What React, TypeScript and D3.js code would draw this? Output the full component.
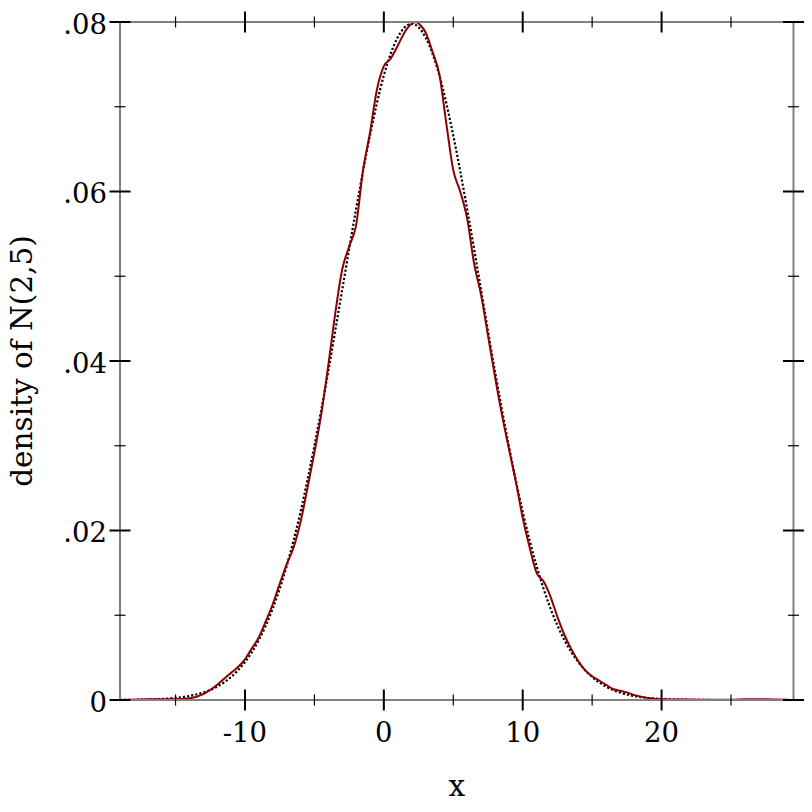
import React from "react";
import * as d3 from "d3";

const X_DOMAIN = [-19, 29.5];
const Y_DOMAIN = [0, 0.08];
const X_MAJOR = [-10, 0, 10, 20];
const X_MAJOR_LABELS = ["-10", "0", "10", "20"];
const X_MINOR = [-15, -5, 5, 15, 25];
const Y_MAJOR = [0, 0.02, 0.04, 0.06, 0.08];
const Y_MAJOR_LABELS = ["0", ".02", ".04", ".06", ".08"];
const Y_MINOR = [0.01, 0.03, 0.05, 0.07];

// dashed curve: density of N(2,5)
const normX = [-19, -18, -17, -16, -15, -14, -13, -12, -11, -10, -9, -8, -7, -6, -5, -4, -3, -2, -1, 0, 1, 2, 3, 4, 5, 6, 7, 8, 9, 10, 11, 12, 13, 14, 15, 16, 17, 18, 19, 20, 21, 22, 23, 24, 26, 28, 29.5];
const normY = [0.00001, 0.00003, 0.00006, 0.00012, 0.00025, 0.00048, 0.00089, 0.00158, 0.00272, 0.00448, 0.00709, 0.0108, 0.0158, 0.0222, 0.03, 0.0388, 0.0484, 0.0579, 0.0666, 0.0737, 0.0782, 0.0798, 0.0782, 0.0737, 0.0666, 0.0579, 0.0484, 0.0388, 0.03, 0.0222, 0.0158, 0.0108, 0.00709, 0.00448, 0.00272, 0.00158, 0.00089, 0.00048, 0.00025, 0.00012, 0.00006, 0.00003, 0.00001, 0.0, 0.0, 0.0, 0.0];

// solid dark-red curve: estimated density of the sample
const kdeX = [-19, -18, -17, -16, -15, -14, -13, -12.5, -12, -11.5, -11, -10.5, -10, -9.5, -9, -8.5, -8, -7.5, -7, -6.5, -6, -5.5, -5, -4.5, -4, -3.5, -3, -2.5, -2, -1.5, -1, -0.5, 0, 0.5, 1, 1.5, 2, 2.3, 2.7, 3, 3.5, 4, 4.5, 5, 5.5, 6, 6.5, 7, 7.5, 8, 8.5, 9, 9.5, 10, 10.5, 11, 11.5, 12, 12.5, 13, 13.5, 14, 14.5, 15, 15.5, 16, 16.5, 17, 17.5, 18, 18.5, 19, 20, 21, 22, 23, 24, 25, 26, 27, 28, 29, 29.5];
const kdeY = [0, 0.00003, 0.00008, 0.0001, 0.00008, 0.0002, 0.0007, 0.0012, 0.0018, 0.0025, 0.0032, 0.0039, 0.0048, 0.0061, 0.0074, 0.0093, 0.0113, 0.0137, 0.016, 0.018, 0.021, 0.025, 0.0292, 0.0338, 0.0395, 0.0456, 0.0508, 0.0535, 0.056, 0.0625, 0.0669, 0.072, 0.0748, 0.0757, 0.0772, 0.0788, 0.0798, 0.08, 0.0795, 0.0788, 0.0765, 0.0738, 0.068, 0.0625, 0.06, 0.0568, 0.0515, 0.0478, 0.043, 0.0382, 0.0337, 0.0297, 0.0258, 0.0215, 0.018, 0.015, 0.014, 0.0122, 0.0098, 0.0077, 0.006, 0.0046, 0.0035, 0.0028, 0.0023, 0.0018, 0.0013, 0.0011, 0.0009, 0.0006, 0.0004, 0.00025, 0.0001, 0.00005, 0.00005, 0.00003, 0.00002, 0.00003, 0.00008, 0.0001, 0.00006, 0.00002, 0];

const W = 812;
const H = 812;
const LEFT = 120;
const RIGHT = 793.5;
const TOP = 22;
const BOTTOM = 700;
const FONT = "'DejaVu Serif', serif";
const FS = 27.5;
const TITLE_FS = 29.5;

export default function App() {
  const x = d3.scaleLinear().domain(X_DOMAIN).range([LEFT, RIGHT]);
  const y = d3.scaleLinear().domain(Y_DOMAIN).range([BOTTOM, TOP]);

  const line = d3
    .line<[number, number]>()
    .x((d) => x(d[0]))
    .y((d) => y(d[1]))
    .curve(d3.curveMonotoneX);

  const normPts: [number, number][] = normX.map((v, i) => [v, normY[i]]);
  const kdePts: [number, number][] = kdeX.map((v, i) => [v, kdeY[i]]);

  const axisColor = "#808080";
  const majorHalf = 10.5;
  const minorHalf = 5.5;

  return (
    <svg
      width={W}
      height={H}
      style={{ position: "absolute", left: 0, top: 0, background: "#fff" }}
      fontFamily={FONT}
    >
      <rect x={0} y={0} width={W} height={H} fill="#fff" />
      <defs>
        <clipPath id="plotclip">
          <rect x={LEFT} y={TOP - 2} width={RIGHT - LEFT} height={BOTTOM - TOP + 2} />
        </clipPath>
      </defs>
      {/* curves */}
      <g clipPath="url(#plotclip)">
        <path
          d={line(normPts) || ""}
          fill="none"
          stroke="#000"
          strokeWidth={2.2}
          strokeDasharray="2.2,2"
        />
        <path d={line(kdePts) || ""} fill="none" stroke="#8b0000" strokeWidth={2} />
      </g>
      {/* axis lines */}
      <g stroke={axisColor} strokeWidth={2} fill="none">
        <line x1={LEFT} y1={BOTTOM} x2={RIGHT} y2={BOTTOM} />
        <line x1={LEFT} y1={TOP} x2={RIGHT} y2={TOP} />
        <line x1={LEFT} y1={TOP} x2={LEFT} y2={BOTTOM} />
        <line x1={RIGHT} y1={TOP} x2={RIGHT} y2={BOTTOM} />
      </g>
      {/* ticks */}
      <g stroke="#000">
        {X_MAJOR.map((t) => (
          <g key={"xm" + t}>
            <line x1={x(t)} x2={x(t)} y1={BOTTOM - majorHalf} y2={BOTTOM + majorHalf} strokeWidth={2} />
            <line x1={x(t)} x2={x(t)} y1={TOP - majorHalf} y2={TOP + majorHalf} strokeWidth={2} />
          </g>
        ))}
        {X_MINOR.map((t) => (
          <g key={"xn" + t}>
            <line x1={x(t)} x2={x(t)} y1={BOTTOM - minorHalf} y2={BOTTOM + minorHalf} strokeWidth={1.2} />
            <line x1={x(t)} x2={x(t)} y1={TOP - minorHalf} y2={TOP + minorHalf} strokeWidth={1.2} />
          </g>
        ))}
        {Y_MAJOR.map((t) => (
          <g key={"ym" + t}>
            <line x1={LEFT - majorHalf} x2={LEFT + majorHalf} y1={y(t)} y2={y(t)} strokeWidth={2} />
            <line x1={RIGHT - majorHalf} x2={RIGHT + majorHalf} y1={y(t)} y2={y(t)} strokeWidth={2} />
          </g>
        ))}
        {Y_MINOR.map((t) => (
          <g key={"yn" + t}>
            <line x1={LEFT - minorHalf} x2={LEFT + minorHalf} y1={y(t)} y2={y(t)} strokeWidth={1.2} />
            <line x1={RIGHT - minorHalf} x2={RIGHT + minorHalf} y1={y(t)} y2={y(t)} strokeWidth={1.2} />
          </g>
        ))}
      </g>
      {/* tick labels */}
      <g fontSize={FS} fill="#000">
        {X_MAJOR.map((t, i) => (
          <text key={"xl" + t} x={x(t)} y={742} textAnchor="middle">
            {X_MAJOR_LABELS[i]}
          </text>
        ))}
        {Y_MAJOR.map((t, i) => (
          <text key={"yl" + t} x={107} y={y(t) + 11.5} textAnchor="end">
            {Y_MAJOR_LABELS[i]}
          </text>
        ))}
      </g>
      {/* axis titles */}
      <text x={(LEFT + RIGHT) / 2} y={796} textAnchor="middle" fontSize={TITLE_FS}>
        x
      </text>
      <text
        transform={`translate(32, ${(TOP + BOTTOM) / 2}) rotate(-90)`}
        textAnchor="middle"
        fontSize={TITLE_FS}
      >
        density of N(2,5)
      </text>
    </svg>
  );
}
